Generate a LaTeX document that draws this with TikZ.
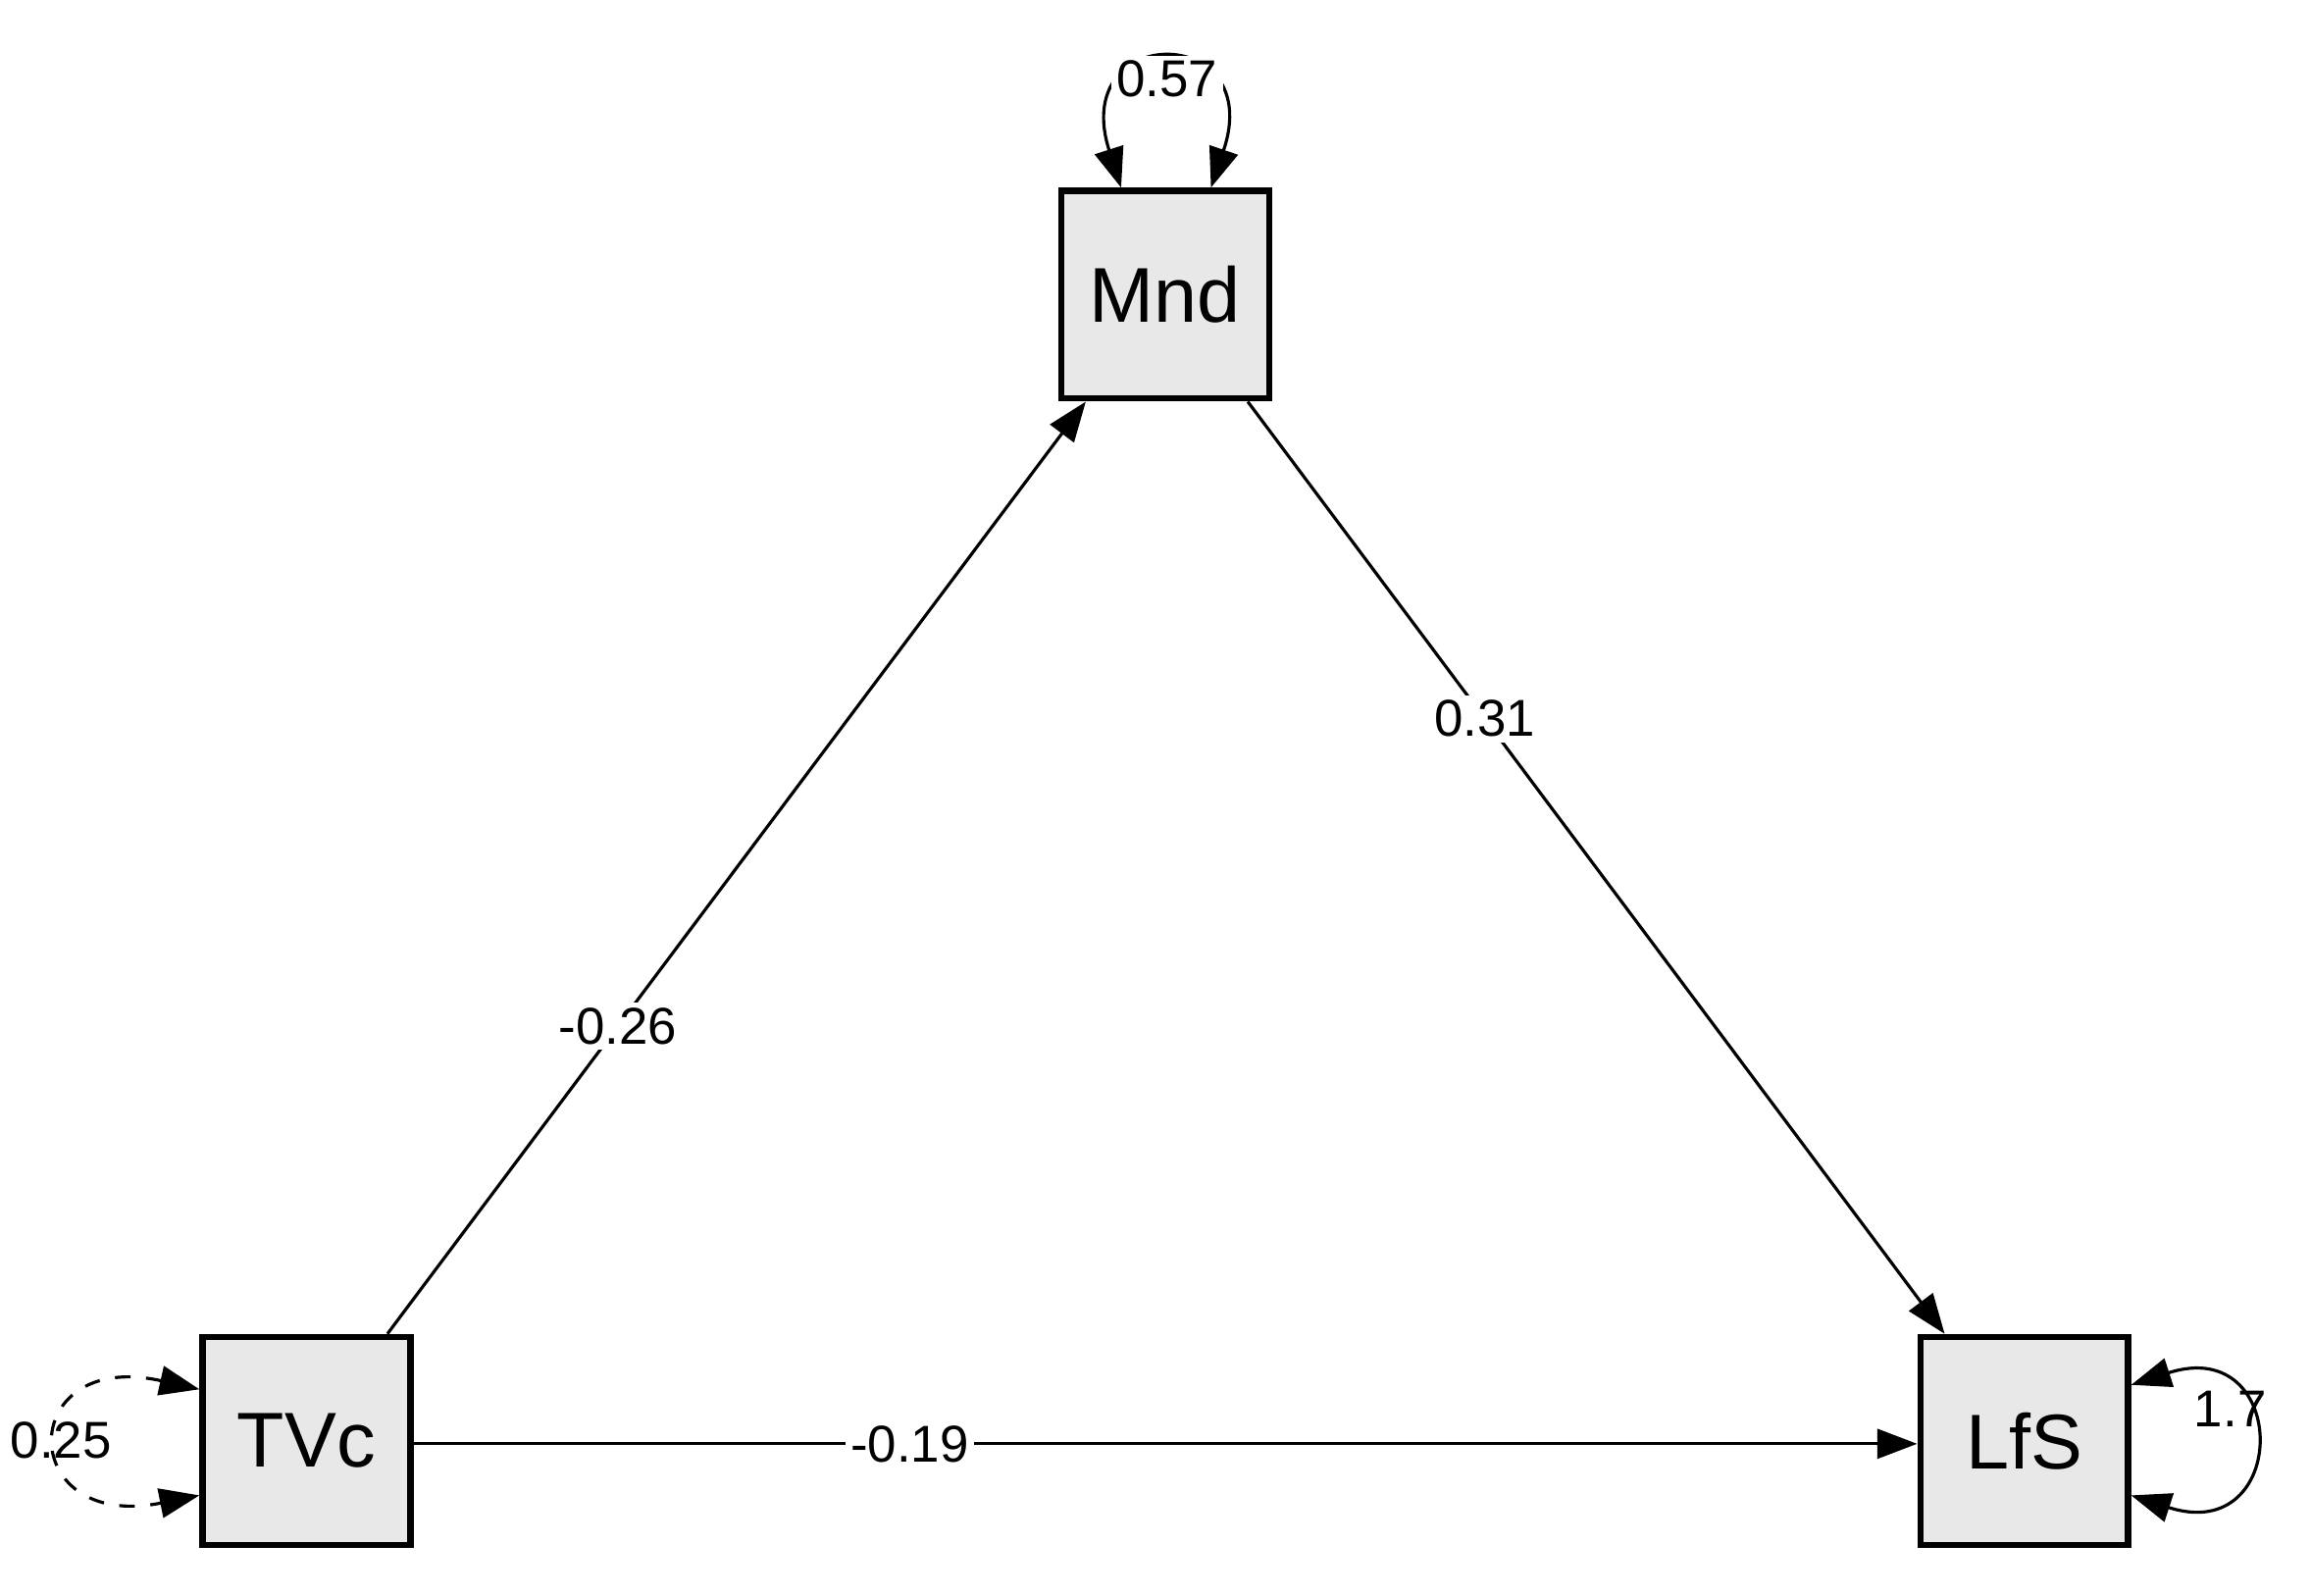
\documentclass[tikz,border=0pt]{standalone}
\usepackage{fontspec}
\setmainfont{Liberation Sans}
\usetikzlibrary{arrows.meta,calc}
\begin{document}
\begin{tikzpicture}[x=0.01cm,y=-0.01cm,
  var/.style={draw,line width=1.2pt,fill=black!9,minimum size=1.41cm,inner sep=0,font=\fontsize{15}{18}\selectfont},
  path/.style={line width=0.6pt,-{Triangle[length=0.27cm,width=0.2cm]}},
  loop/.style={line width=0.6pt,{Triangle[length=0.27cm,width=0.2cm]}-{Triangle[length=0.27cm,width=0.2cm]}},
  lab/.style={fill=white,inner sep=1pt,font=\fontsize{10}{12}\selectfont}]
\useasboundingbox (0,0) rectangle (1568,1083);
\node[var] (M) at (791,200) {Mnd};
\node[var] (T) at (208,978) {TVc};
\node[var] (L) at (1374,978) {LfS};
\draw[path] ($(T.north)+(55,0)$) -- node[lab,pos=0.33]{-0.26} ($(M.south)+(-54,0)$);
\draw[path] ($(M.south)+(56,0)$) -- node[lab,pos=0.34]{0.31} ($(L.north)+(-54,0)$);
\draw[path] ($(T.east)+(0,2)$) -- node[lab,pos=0.33]{-0.19} ($(L.west)+(0,2)$);
\draw[loop] ($(M.north)+(-30,0)$) .. controls (725,15) and (860,15) .. node[lab,pos=0.5,yshift=-3]{0.57} ($(M.north)+(31,0)$);
\draw[loop,dashed] ($(T.west)+(0,-35)$) .. controls (10,915) and (10,1040) .. node[lab,pos=0.5,fill=none]{0.25} ($(T.west)+(0,37)$);
\draw[loop] ($(L.east)+(0,-38)$) .. controls (1555,905) and (1555,1050) .. node[lab,pos=0.5,fill=none,xshift=-4,yshift=6]{1.7} ($(L.east)+(0,37)$);
\end{tikzpicture}
\end{document}
